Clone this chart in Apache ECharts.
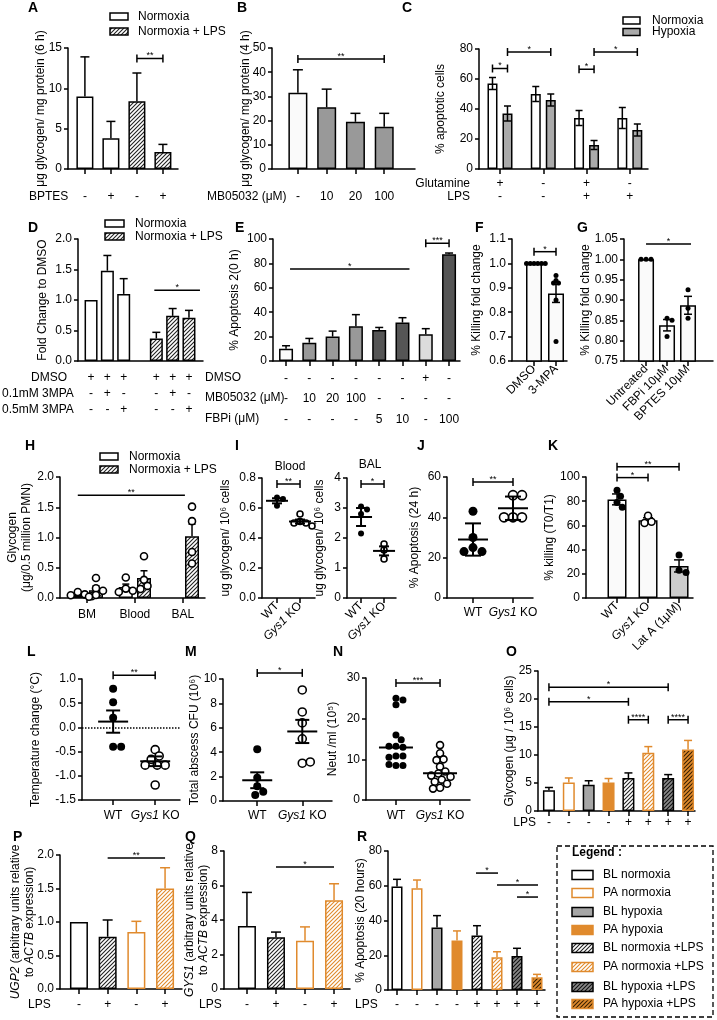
<!DOCTYPE html>
<html>
<head>
<meta charset="utf-8">
<title>Glycogen panels</title>
<script src="https://cdn.jsdelivr.net/npm/echarts@6.0.0/dist/echarts.min.js"></script>
<style>
  html, body { margin: 0; padding: 0; background: #fff; }
  #chart { width: 717px; height: 1020px; }
</style>
</head>
<body>
<div id="chart"></div>
<script>
// ---------- data ----------
var bptes = ['-', '+', '-', '+'];
var glyA = [9.0, 3.8, 8.4, 2.1];
var glyAErr = [4.9, 2.1, 3.5, 0.95];

var mbDose = ['-', '10', '20', '100'];
var glyB = [31.5, 25.5, 19.5, 17.5];
var glyBErr = [9.5, 7.5, 3.5, 5.5];

var glutRow = ['+', '-', '+', '-'];
var lpsRowC = ['-', '-', '+', '+'];
var apoNorm = [57, 50, 34, 34];
var apoNormErr = [4, 5, 5, 7];
var apoHyp = [37, 46, 16, 26];
var apoHypErr = [5, 4, 3, 4];

var dmsoD = ['+', '+', '+', '', '+', '+', '+'];
var mpa01 = ['-', '+', '-', '', '-', '+', '-'];
var mpa05 = ['-', '-', '+', '', '-', '-', '+'];
var foldD = [1.0, 1.48, 1.1, null, 0.37, 0.74, 0.71];
var foldDErr = [0, 0.25, 0.25, null, 0.1, 0.12, 0.12];

var dmsoE = ['-', '-', '-', '-', '-', '-', '+', '-'];
var mbE = ['-', '10', '20', '100', '-', '-', '-', '-'];
var fbpE = ['-', '-', '-', '-', '5', '10', '-', '100'];
var apoE = [10, 15, 20, 28.5, 25.5, 31.5, 22, 87.5];
var apoEErr = [2.5, 3.5, 4.5, 9.5, 2, 4, 4.5, 1];

var killFCats = ['DMSO', '3-MPA'];
var killFPts = [[1, 1, 1, 1, 1, 1], [0.95, 0.93, 0.92, 0.92, 0.85, 0.68]];
var killFMean = [1.0, 0.877];
var killFSem = [0, 0.037];

var killGCats = ['Untreated', 'FBPi 10μM', 'BPTES 10μM'];
var killGPts = [[1, 1, 1], [0.855, 0.85, 0.81], [0.925, 0.88, 0.855]];
var killGMean = [1.0, 0.838, 0.887];
var killGSem = [0, 0.014, 0.022];

var tissueCats = ['BM', 'Blood', 'BAL'];
var glyHNorm = [0.05, 0.18, null];
var glyHNormErr = [0.03, 0.05, null];
var glyHLps = [0.13, 0.33, 1.02];
var glyHLpsErr = [0.07, 0.12, 0.2];
var glyHNormPts = [[0.1, 0.06, 0.045, 0.03], [0.34, 0.155, 0.12, 0.1], []];
var glyHLpsPts = [[0.33, 0.16, 0.12, 0.05, 0.02], [0.69, 0.3, 0.2, 0.15], [1.51, 1.27, 0.76, 0.57]];

var geno = ['WT', '{i|Gys1} KO'];
var glyIBloodPts = [[0.67, 0.66, 0.615], [0.56, 0.51, 0.5, 0.5, 0.48]];
var glyIBloodMean = [0.648, 0.51];
var glyIBloodSem = [0.017, 0.013];
var glyIBalPts = [[3.05, 2.95, 2.8, 2.15], [1.8, 1.6, 1.3]];
var glyIBalMean = [2.7, 1.57];
var glyIBalSem = [0.3, 0.15];

var apoJPts = [[43, 30, 25, 23, 23], [51, 51, 40, 40, 40]];
var apoJMean = [29, 44.5];
var apoJSd = [8, 5.8];

var killKCats = ['WT', '{i|Gys1} KO', 'Lat A (1μM)'];
var killKPts = [[89, 84, 79, 75], [68, 63, 62], [35.5, 23, 21]];
var killKMean = [81.5, 64.3, 26.5];
var killKSem = [4.5, 2, 5];

var tempPts = [[0.8, 0.52, 0.2, -0.4, -0.4], [-0.46, -0.59, -0.66, -0.78, -0.78, -0.78, -1.19]];
var tempMean = [0.12, -0.7];
var tempSem = [0.23, 0.1];

var cfuPts = [[4.25, 1.9, 1.2, 0.75, 0.5], [9.1, 7.3, 6.4, 5.1, 3.1, 3.2]];
var cfuMean = [1.7, 5.7];
var cfuSem = [0.65, 0.95];

var neutPts = [
  [25, 24.6, 23.4, 16, 14.8, 13.2, 13, 13.2, 10.8, 10.8, 10.5, 8.5, 8.5, 8.7],
  [13.5, 11.5, 10, 9.8, 8.2, 7, 6.5, 6, 5.7, 5, 4.5, 4, 3, 2.8]
];
var neutMedian = [12.9, 6.6];

var lpsO = ['-', '-', '-', '-', '+', '+', '+', '+'];
var glyO = [3.7, 5.1, 4.7, 5.1, 5.9, 10.4, 5.9, 11.0];
var glyOErr = [0.5, 0.8, 0.7, 0.7, 0.9, 1.1, 0.6, 1.6];

var lpsP = ['-', '+', '-', '+'];
var ugp2 = [1.0, 0.78, 0.85, 1.5];
var ugp2Err = [0, 0.25, 0.16, 0.31];
var gys1 = [3.65, 3.0, 2.8, 5.15];
var gys1Err = [1.95, 0.3, 0.8, 0.95];

var apoR = [59.5, 58.5, 36, 28.5, 31.3, 18.8, 19.6, 7.3];
var apoRErr = [4.2, 4.8, 6.8, 5.5, 5.7, 3.2, 4.4, 1.7];

var legendNames = ['BL normoxia', 'PA normoxia', 'BL hypoxia', 'PA hypoxia',
  'BL normoxia +LPS', 'PA normoxia +LPS', 'BL hypoxia +LPS', 'PA hypoxia +LPS'];

// ---------- styles ----------
var FONT = '"Liberation Sans", Arial, Helvetica, sans-serif';
var FS = 12;
var ORANGE = '#e08a2d';

function hatch(bg, fg) {
  var s = 4, c = document.createElement('canvas');
  c.width = s; c.height = s;
  var g = c.getContext('2d');
  g.fillStyle = bg; g.fillRect(0, 0, s, s);
  g.strokeStyle = fg; g.lineWidth = 1.1;
  g.beginPath();
  g.moveTo(0, s); g.lineTo(s, 0);
  g.moveTo(-1, 1); g.lineTo(1, -1);
  g.moveTo(s - 1, s + 1); g.lineTo(s + 1, s - 1);
  g.stroke();
  return {image: c, repeat: 'repeat'};
}

var ST = {
  bln: {fill: '#fff', line: '#000'},
  pan: {fill: '#fff', line: ORANGE},
  blh: {fill: '#a6a6a6', line: '#000'},
  pah: {fill: ORANGE, line: ORANGE},
  blnl: {fill: hatch('#fff', '#222'), line: '#000'},
  panl: {fill: hatch('#fff', ORANGE), line: ORANGE},
  blhl: {fill: hatch('#8a8a8a', '#111'), line: '#000'},
  pahl: {fill: hatch(ORANGE, '#3a2000'), line: ORANGE}
};
var legendStyles = [ST.bln, ST.pan, ST.blh, ST.pah, ST.blnl, ST.panl, ST.blhl, ST.pahl];
var light = {fill: '#fafafa', line: '#000'};
function solid(c) { return {fill: c, line: '#000'}; }

var grids = [], xAxes = [], yAxes = [], series = [], graphics = [];
var rich = {i: {fontStyle: 'italic', fontSize: FS, fontFamily: FONT, color: '#000'}};

function panel(p) {
  var gi = grids.length, idx = [];
  for (var i = 0; i < p.n; i++) idx.push(i);
  grids.push({left: p.left, top: p.top, width: p.width, height: p.height, outerBoundsMode: 'none'});
  xAxes.push({
    gridIndex: gi, type: 'value', min: p.xmin, max: p.xmax,
    splitLine: {show: false},
    axisLine: {show: true, onZero: false, lineStyle: {color: '#000', width: 1.5}},
    axisTick: {show: p.tick !== false, customValues: idx, length: 5, lineStyle: {color: '#000', width: 1.5}},
    axisLabel: {
      customValues: idx, color: '#000', fontSize: FS, fontFamily: FONT,
      margin: p.margin, rotate: p.rotate || 0, lineHeight: p.lh || 14, rich: rich,
      formatter: function (v) {
        var k = Math.round(v);
        return p.rows.map(function (r) { return r[k]; }).join('\n');
      }
    }
  });
  yAxes.push({
    gridIndex: gi, type: 'value', min: p.ymin, max: p.ymax, interval: p.yint,
    splitLine: {show: false},
    axisLine: {show: true, onZero: false, lineStyle: {color: '#000', width: 1.5}},
    axisTick: {show: true, length: 4, lineStyle: {color: '#000', width: 1.5}},
    axisLabel: {color: '#000', fontSize: FS, fontFamily: FONT, margin: 6,
      formatter: p.dp == null ? null : function (v) { return v.toFixed(p.dp); }},
    name: p.name, nameLocation: 'middle', nameGap: p.nameGap, nameRotate: 90,
    nameMoveOverlap: false,
    nameTextStyle: {color: '#000', fontSize: FS, fontFamily: FONT, lineHeight: 14, rich: rich}
  });
  return gi;
}

function bar(gi, vals, sty, w, gap) {
  var data = [];
  vals.forEach(function (v, i) {
    if (v == null) return;
    var s = Array.isArray(sty) ? sty[i] : sty;
    data.push({value: [i, v], itemStyle: {color: s.fill, borderColor: s.line, borderWidth: 1.5}});
  });
  return {type: 'bar', xAxisIndex: gi, yAxisIndex: gi, barWidth: w, barGap: gap || '-100%',
    data: data, silent: true, z: 2};
}

function err(gi, vals, errs, sty, o) {
  o = o || {};
  var data = [];
  vals.forEach(function (v, i) { if (v != null && errs[i]) data.push([i, v, errs[i]]); });
  return {type: 'custom', xAxisIndex: gi, yAxisIndex: gi, silent: true, z: 3, data: data,
    renderItem: function (p, api) {
      var i = api.value(0), m = api.value(1), e = api.value(2);
      var col = Array.isArray(sty) ? sty[i].line : (sty || '#000');
      var cw = o.cap || 4, c = api.coord([i, m]);
      var t = api.coord([i, m + e]), b = o.both ? api.coord([i, m - e]) : c;
      var x = c[0] + (o.off || 0), st = {stroke: col, lineWidth: 1.5};
      var ch = [
        {type: 'line', shape: {x1: x, y1: t[1], x2: x, y2: b[1]}, style: st},
        {type: 'line', shape: {x1: x - cw, y1: t[1], x2: x + cw, y2: t[1]}, style: st}
      ];
      if (o.both) ch.push({type: 'line', shape: {x1: x - cw, y1: b[1], x2: x + cw, y2: b[1]}, style: st});
      return {type: 'group', children: ch};
    }};
}

// spread points of one group sideways so they do not overlap
function swarm(api, g, vals, k, r, gapK) {
  var placed = [], need = gapK * r * r;
  for (var j = 0; j <= k; j++) {
    var y = api.coord([g, vals[j]])[1], dx = 0;
    for (var s = 0; s < 60; s++) {
      var c = s === 0 ? 0 : (s % 2 ? 1 : -1) * Math.ceil(s / 2) * r * 0.5;
      var ok = placed.every(function (q) {
        return (q[0] - c) * (q[0] - c) + (q[1] - y) * (q[1] - y) >= need;
      });
      if (ok) { dx = c; break; }
    }
    placed.push([dx, y]);
  }
  return placed[k][0];
}

function pts(gi, groups, o) {
  var data = [];
  groups.forEach(function (arr, g) { arr.forEach(function (v, k) { data.push([g, v, k]); }); });
  return {type: 'custom', xAxisIndex: gi, yAxisIndex: gi, silent: true, z: 4, data: data,
    renderItem: function (p, api) {
      var g = api.value(0), v = api.value(1), k = api.value(2), r = o.r || 3;
      var c = api.coord([g, v]);
      var dx = swarm(api, g, groups[g], k, r, o.gap || 3.4);
      var hollow = Array.isArray(o.hollow) ? o.hollow[g] : o.hollow;
      return {type: 'circle', shape: {cx: c[0] + (o.off || 0) + dx, cy: c[1], r: r},
        style: hollow ? {fill: '#fff', stroke: '#000', lineWidth: 1.6} : {fill: '#000'}};
    }};
}

function meanLines(gi, means, errs, w, cap) {
  var data = means.map(function (m, i) { return [i, m, errs ? errs[i] : 0]; });
  return {type: 'custom', xAxisIndex: gi, yAxisIndex: gi, silent: true, z: 5, data: data,
    renderItem: function (p, api) {
      var i = api.value(0), m = api.value(1), e = api.value(2);
      var c = api.coord([i, m]), st = {stroke: '#000', lineWidth: 2};
      var ch = [{type: 'line', shape: {x1: c[0] - w / 2, y1: c[1], x2: c[0] + w / 2, y2: c[1]}, style: st}];
      if (e) {
        var t = api.coord([i, m + e]), b = api.coord([i, m - e]);
        ch.push({type: 'line', shape: {x1: c[0], y1: t[1], x2: c[0], y2: b[1]}, style: st});
        ch.push({type: 'line', shape: {x1: c[0] - cap / 2, y1: t[1], x2: c[0] + cap / 2, y2: t[1]}, style: st});
        ch.push({type: 'line', shape: {x1: c[0] - cap / 2, y1: b[1], x2: c[0] + cap / 2, y2: b[1]}, style: st});
      }
      return {type: 'group', children: ch};
    }};
}

function sig(gi, list) {
  var data = list.map(function (s, n) { return [s.a, s.y, n]; });
  return {type: 'custom', xAxisIndex: gi, yAxisIndex: gi, silent: true, z: 6, data: data,
    renderItem: function (p, api) {
      var s = list[api.value(2)];
      var p1 = api.coord([s.a, s.y]), p2 = api.coord([s.b, s.y]);
      var x1 = p1[0] + (s.oa || 0), x2 = p2[0] + (s.ob || 0), y = p1[1];
      var st = {stroke: '#000', lineWidth: 1.5};
      var ch = [{type: 'line', shape: {x1: x1, y1: y, x2: x2, y2: y}, style: st}];
      if (s.cap) {
        ch.push({type: 'line', shape: {x1: x1, y1: y - 4, x2: x1, y2: y + 4}, style: st});
        ch.push({type: 'line', shape: {x1: x2, y1: y - 4, x2: x2, y2: y + 4}, style: st});
      }
      ch.push({type: 'text', x: (x1 + x2) / 2, y: y + 2, style: {text: s.t, fill: '#000',
        font: '9px ' + FONT, textAlign: 'center', align: 'center',
        textVerticalAlign: 'bottom', verticalAlign: 'bottom'}});
      return {type: 'group', children: ch};
    }};
}

function txt(x, y, s, o) {
  o = o || {};
  graphics.push({type: 'text', x: x, y: y, silent: true, z: 10, style: {
    text: s, fill: '#000', font: (o.bold ? 'bold ' : '') + (o.size || FS) + 'px ' + FONT,
    textAlign: o.align || 'left', align: o.align || 'left',
    textVerticalAlign: o.va || 'middle', verticalAlign: o.va || 'middle'}});
}
function swatch(x, y, w, h, s) {
  graphics.push({type: 'rect', silent: true, z: 10, shape: {x: x, y: y, width: w, height: h},
    style: {fill: s.fill, stroke: s.line, lineWidth: 1.5}});
}

// ---------- A ----------
var gA = panel({left: 68, top: 48, width: 110, height: 121, n: 4, xmin: -0.65, xmax: 3.58,
  rows: [bptes], margin: 21, ymin: 0, ymax: 15, yint: 5, name: 'μg glycogen/ mg protein (6 h)', nameGap: 20});
series.push(bar(gA, glyA, [ST.bln, ST.bln, ST.blnl, ST.blnl], 17));
series.push(err(gA, glyA, glyAErr, '#000', {cap: 4.5}));
series.push(sig(gA, [{a: 2, b: 3, y: 13.7, t: '**', cap: true}]));

// ---------- B ----------
var gB = panel({left: 272, top: 48, width: 143, height: 121, n: 4, xmin: -0.9, xmax: 4.07,
  rows: [mbDose], margin: 21, ymin: 0, ymax: 50, yint: 10, name: 'μg glycogen/ mg protein (4 h)', nameGap: 19});
series.push(bar(gB, glyB, [light, solid('#999'), solid('#999'), solid('#999')], 19));
series.push(err(gB, glyB, glyBErr, '#000', {cap: 5}));
series.push(sig(gB, [{a: 0, b: 3, y: 45.5, t: '**', cap: true}]));

// ---------- C ----------
var gC = panel({left: 479, top: 49, width: 169, height: 120, n: 4, xmin: -0.485, xmax: 3.42,
  rows: [glutRow, lpsRowC], margin: 8, lh: 13, ymin: 0, ymax: 80, yint: 20, name: '% apoptotic cells', nameGap: 31});
series.push(bar(gC, apoNorm, ST.bln, 10, '50%'));
series.push(bar(gC, apoHyp, solid('#aaa'), 10, '50%'));
series.push(err(gC, apoNorm, apoNormErr, '#000', {both: true, off: -7.5, cap: 3.5}));
series.push(err(gC, apoHyp, apoHypErr, '#000', {both: true, off: 7.5, cap: 3.5}));
series.push(sig(gC, [
  {a: 0, b: 0, oa: -7.5, ob: 7.5, y: 67, t: '*', cap: true},
  {a: 0, b: 1, oa: 7.5, ob: 7.5, y: 78, t: '*', cap: true},
  {a: 2, b: 2, oa: -7.5, ob: 7.5, y: 66.5, t: '*', cap: true},
  {a: 2, b: 3, oa: 7.5, ob: 7.5, y: 78, t: '*', cap: true}
]));

// ---------- D ----------
var gD = panel({left: 78, top: 239, width: 125, height: 122, n: 7, xmin: -0.8, xmax: 6.86, tick: false,
  rows: [dmsoD, mpa01, mpa05], margin: 9, lh: 16, ymin: 0, ymax: 2, yint: 0.5, dp: 1,
  name: 'Fold Change to DMSO', nameGap: 28});
series.push(bar(gD, foldD, [ST.bln, ST.bln, ST.bln, null, ST.blnl, ST.blnl, ST.blnl], 13));
series.push(err(gD, foldD, foldDErr, '#000', {cap: 4}));
series.push(sig(gD, [{a: 4, b: 6, oa: -2, ob: 11, y: 1.16, t: '*'}]));

// ---------- E ----------
var gE = panel({left: 273, top: 239, width: 187, height: 122, n: 8, xmin: -0.56, xmax: 7.47,
  rows: [dmsoE, mbE, fbpE], margin: 7, lh: 20.5, ymin: 0, ymax: 100, yint: 20,
  name: '% Apoptosis 2(0 h)', nameGap: 31});
series.push(bar(gE, apoE, [light, solid('#999'), solid('#999'), solid('#999'),
  solid('#555'), solid('#555'), solid('#dcdcdc'), solid('#555')], 14));
series.push(err(gE, apoE, apoEErr, '#000', {cap: 4}));
series.push(sig(gE, [{a: 0, b: 5, oa: 4, ob: 7, y: 75.5, t: '*'},
  {a: 6, b: 7, y: 96.5, t: '***', cap: true}]));

// ---------- F ----------
var gF = panel({left: 512, top: 239, width: 55, height: 122, n: 2, xmin: -1, xmax: 1.5,
  rows: [killFCats], rotate: 45, margin: 6, ymin: 0.6, ymax: 1.1, yint: 0.1, dp: 1,
  name: '% Killing fold change', nameGap: 28});
series.push(bar(gF, killFMean, light, 16));
series.push(err(gF, killFMean, killFSem, '#000', {both: true, cap: 4}));
series.push(pts(gF, killFPts, {r: 2.5, hollow: false, gap: 1.6}));
series.push(sig(gF, [{a: 0, b: 1, y: 1.048, t: '*', cap: true}]));

// ---------- G ----------
var gG = panel({left: 624, top: 239, width: 89, height: 122, n: 3, xmin: -1.05, xmax: 3.19,
  rows: [killGCats], rotate: 45, margin: 6, ymin: 0.75, ymax: 1.05, yint: 0.05, dp: 2,
  name: '% Killing fold change', nameGap: 31});
series.push(bar(gG, killGMean, light, 16));
series.push(err(gG, killGMean, killGSem, '#000', {both: true, cap: 4}));
series.push(pts(gG, killGPts, {r: 2.5, hollow: false}));
series.push(sig(gG, [{a: 0, b: 2, ob: 3, y: 1.038, t: '*'}]));

// ---------- H ----------
var gH = panel({left: 60, top: 477, width: 145, height: 121, n: 3, xmin: -0.56, xmax: 2.46,
  rows: [tissueCats], margin: 10, ymin: 0, ymax: 2, yint: 0.5, dp: 1,
  name: 'Glycogen\n(μg/0.5 million PMN)', nameGap: 26});
series.push(bar(gH, glyHNorm, ST.bln, 14, '30%'));
series.push(bar(gH, glyHLps, ST.blnl, 14, '30%'));
series.push(err(gH, glyHNorm, glyHNormErr, '#000', {off: -9.1, cap: 3.5}));
series.push(err(gH, glyHLps, glyHLpsErr, '#000', {off: 9.1, cap: 3.5}));
series.push(pts(gH, glyHNormPts, {r: 3.5, hollow: true, off: -9.1}));
series.push(pts(gH, glyHLpsPts, {r: 3.5, hollow: true, off: 9.1}));
series.push(sig(gH, [{a: 0, b: 2, oa: -9.1, ob: 2, y: 1.7, t: '**'}]));

// ---------- I ----------
var gI1 = panel({left: 262, top: 478, width: 53, height: 120, n: 2, xmin: -0.65, xmax: 1.65,
  rows: [geno], rotate: 45, margin: 6, ymin: 0, ymax: 0.8, yint: 0.2, dp: 1,
  name: 'ug glycogen/ 10⁶ cells', nameGap: 29});
series.push(pts(gI1, glyIBloodPts, {r: 3, hollow: [false, true]}));
series.push(meanLines(gI1, glyIBloodMean, glyIBloodSem, 22, 10));
series.push(sig(gI1, [{a: 0, b: 1, y: 0.76, t: '**', cap: true}]));

var gI2 = panel({left: 347, top: 478, width: 49, height: 120, n: 2, xmin: -0.61, xmax: 1.52,
  rows: [geno], rotate: 45, margin: 6, ymin: 0, ymax: 4, yint: 1,
  name: 'ug glycogen/ 10⁶ cells', nameGap: 20});
series.push(pts(gI2, glyIBalPts, {r: 3, hollow: [false, true]}));
series.push(meanLines(gI2, glyIBalMean, glyIBalSem, 22, 10));
series.push(sig(gI2, [{a: 0, b: 1, y: 3.8, t: '*', cap: true}]));

// ---------- J ----------
var gJ = panel({left: 447, top: 477, width: 86, height: 121, n: 2, xmin: -0.65, xmax: 1.5,
  rows: [geno], margin: 8, ymin: 0, ymax: 60, yint: 20, name: '% Apoptosis (24 h)', nameGap: 25});
series.push(pts(gJ, apoJPts, {r: 4.5, hollow: [false, true]}));
series.push(meanLines(gJ, apoJMean, apoJSd, 30, 16));
series.push(sig(gJ, [{a: 0, b: 1, y: 57.5, t: '**', cap: true}]));

// ---------- K ----------
var gK = panel({left: 586, top: 477, width: 107, height: 121, n: 3, xmin: -1, xmax: 2.45,
  rows: [killKCats], rotate: 45, margin: 6, ymin: 0, ymax: 100, yint: 20,
  name: '% killing (T0/T1)', nameGap: 29});
series.push(bar(gK, killKMean, [light, light, solid('#cccccc')], 19));
series.push(err(gK, killKMean, killKSem, '#000', {both: true, cap: 5}));
series.push(pts(gK, killKPts, {r: 3.5, hollow: [false, true, false]}));
series.push(sig(gK, [{a: 0, b: 1, y: 99.5, t: '*', cap: true}, {a: 0, b: 2, y: 108.5, t: '**', cap: true}]));

// ---------- L ----------
var gL = panel({left: 82, top: 679, width: 98, height: 121, n: 2, xmin: -0.74, xmax: 1.59,
  rows: [geno], margin: 9, ymin: -1.5, ymax: 1, yint: 0.5, dp: 1,
  name: 'Temperature change (°C)', nameGap: 39});
series.push(pts(gL, tempPts, {r: 4, hollow: [false, true]}));
var meanL = meanLines(gL, tempMean, tempSem, 30, 14);
meanL.markLine = {silent: true, symbol: ['none', 'none'], label: {show: false},
  lineStyle: {type: 'dotted', color: '#000', width: 1.5}, data: [{yAxis: 0}]};
series.push(meanL);
series.push(sig(gL, [{a: 0, b: 1, y: 1.08, t: '**', cap: true}]));

// ---------- M ----------
var gM = panel({left: 223, top: 679, width: 109, height: 122, n: 2, xmin: -0.76, xmax: 1.66,
  rows: [geno], margin: 8, ymin: 0, ymax: 10, yint: 2, name: 'Total abscess CFU (10⁶)', nameGap: 21});
series.push(pts(gM, cfuPts, {r: 4, hollow: [false, true]}));
series.push(meanLines(gM, cfuMean, cfuSem, 30, 14));
series.push(sig(gM, [{a: 0, b: 1, y: 10.5, t: '*', cap: true}]));

// ---------- N ----------
var gN = panel({left: 366, top: 678, width: 104, height: 122, n: 2, xmin: -0.68, xmax: 1.68,
  rows: [geno], margin: 9, ymin: 0, ymax: 30, yint: 10, name: 'Neut /ml (10⁵)', nameGap: 26});
series.push(pts(gN, neutPts, {r: 3.5, hollow: [false, true]}));
series.push(meanLines(gN, neutMedian, null, 34, 0));
series.push(sig(gN, [{a: 0, b: 1, y: 28.8, t: '***', cap: true}]));

// ---------- O ----------
var gO = panel({left: 538, top: 671, width: 157, height: 140, n: 8, xmin: -0.55, xmax: 7.35,
  rows: [lpsO], margin: 5, ymin: 0, ymax: 25, yint: 5, name: 'Glycogen (μg / 10⁶ cells)', nameGap: 21});
series.push(bar(gO, glyO, legendStyles, 12));
series.push(err(gO, glyO, glyOErr, legendStyles, {cap: 4}));
series.push(sig(gO, [
  {a: 0, b: 6, y: 22.1, t: '*', cap: true},
  {a: 0, b: 4, y: 19.5, t: '*', cap: true},
  {a: 4, b: 5, y: 16.3, t: '****', cap: true},
  {a: 6, b: 7, y: 16.3, t: '****', cap: true}
]));

// ---------- P ----------
var gP = panel({left: 60, top: 855, width: 122, height: 134, n: 4, xmin: -0.66, xmax: 3.59,
  rows: [lpsP], margin: 9, ymin: 0, ymax: 2, yint: 0.5, dp: 1,
  name: '{i|UGP2} (arbitrary units relative\nto {i|ACTB} expression)', nameGap: 23});
var pqStyles = [ST.bln, ST.blnl, ST.pan, ST.panl];
series.push(bar(gP, ugp2, pqStyles, 18));
series.push(err(gP, ugp2, ugp2Err, pqStyles, {cap: 5}));
series.push(sig(gP, [{a: 1, b: 3, y: 1.955, t: '**'}]));

// ---------- Q ----------
var gQ = panel({left: 224, top: 851, width: 126, height: 138, n: 4, xmin: -0.79, xmax: 3.55,
  rows: [lpsP], margin: 9, ymin: 0, ymax: 8, yint: 2,
  name: '{i|GYS1} (arbitrary units relative\nto {i|ACTB} expression)', nameGap: 13});
series.push(bar(gQ, gys1, pqStyles, 18));
series.push(err(gQ, gys1, gys1Err, pqStyles, {cap: 5}));
series.push(sig(gQ, [{a: 1, b: 3, y: 7.07, t: '*'}]));

// ---------- R ----------
var gR = panel({left: 388, top: 851, width: 157, height: 139, n: 8, xmin: -0.45, xmax: 7.4,
  rows: [lpsO], margin: 8, ymin: 0, ymax: 80, yint: 20, name: '% Apoptosis (20 hours)', nameGap: 20});
series.push(bar(gR, apoR, legendStyles, 11));
series.push(err(gR, apoR, apoRErr, legendStyles, {cap: 4}));
series.push(sig(gR, [
  {a: 4, b: 5, oa: -1, ob: 1, y: 67.3, t: '*'},
  {a: 5, b: 7, oa: 0, ob: 1, y: 60.4, t: '*'},
  {a: 6, b: 7, oa: 0, ob: 1, y: 53.5, t: '*'}
]));

// ---------- text, panel letters, legends ----------
[['A', 28, 1], ['B', 237, 1], ['C', 402, 1], ['D', 28, 221], ['E', 235, 221], ['F', 475, 221],
 ['G', 577, 221], ['H', 25, 439], ['I', 235, 439], ['J', 417, 439], ['K', 548, 439],
 ['L', 27, 645], ['M', 185, 645], ['N', 333, 645], ['O', 506, 645], ['P', 13, 830],
 ['Q', 185, 830], ['R', 357, 830]].forEach(function (l) {
  txt(l[1], l[2], l[0], {bold: true, size: 14, va: 'top'});
});

txt(29, 197, 'BPTES');
txt(207, 197, 'MB05032 (μM)');
txt(470, 184, 'Glutamine', {align: 'right'});
txt(470, 197, 'LPS', {align: 'right'});
txt(31, 378, 'DMSO');
txt(2, 394, '0.1mM 3MPA');
txt(2, 410, '0.5mM 3MPA');
txt(205, 378, 'DMSO');
txt(205, 398, 'MB05032 (μM)');
txt(205, 419, 'FBPi (μM)');
txt(290, 467, 'Blood', {align: 'center'});
txt(370, 465, 'BAL', {align: 'center'});
txt(536, 823, 'LPS', {align: 'right'});
txt(28, 1005, 'LPS');
txt(199, 1005, 'LPS');
txt(355, 1005, 'LPS');

function miniLegend(x, tx, ys, names, styles, w) {
  ys.forEach(function (y, i) {
    swatch(x, y - 3.5, w, 7, styles[i]);
    txt(tx, y, names[i], {size: 12});
  });
}
miniLegend(110, 138, [16.5, 31.5], ['Normoxia', 'Normoxia + LPS'], [ST.bln, ST.blnl], 18);
miniLegend(623, 652, [20.5, 32], ['Normoxia', 'Hypoxia'], [ST.bln, solid('#aaa')], 17);
miniLegend(105, 135, [223.5, 236.5], ['Normoxia', 'Normoxia + LPS'], [ST.bln, ST.blnl], 19);
miniLegend(100, 129, [456.5, 469.5], ['Normoxia', 'Normoxia + LPS'], [ST.bln, ST.blnl], 18);

graphics.push({type: 'rect', silent: true, z: 9, shape: {x: 557, y: 846, width: 156, height: 171},
  style: {fill: 'none', stroke: '#000', lineWidth: 1.3, lineDash: [5, 3]}});
txt(572, 853, 'Legend :', {bold: true, size: 12});
var legY = [875, 893, 912, 930, 948, 967, 987, 1004];
legY.forEach(function (y, i) {
  graphics.push({type: 'rect', silent: true, z: 10, shape: {x: 572, y: y - 4.5, width: 21, height: 9},
    style: {fill: legendStyles[i].fill, stroke: legendStyles[i].line, lineWidth: 1.5}});
  txt(603, y, legendNames[i], {size: 12});
});

var chart = echarts.init(document.getElementById('chart'), null, {renderer: 'canvas'});
chart.setOption({
  animation: false,
  backgroundColor: '#fff',
  textStyle: {fontFamily: FONT},
  grid: grids,
  xAxis: xAxes,
  yAxis: yAxes,
  series: series,
  graphic: graphics
});
</script>
</body>
</html>
